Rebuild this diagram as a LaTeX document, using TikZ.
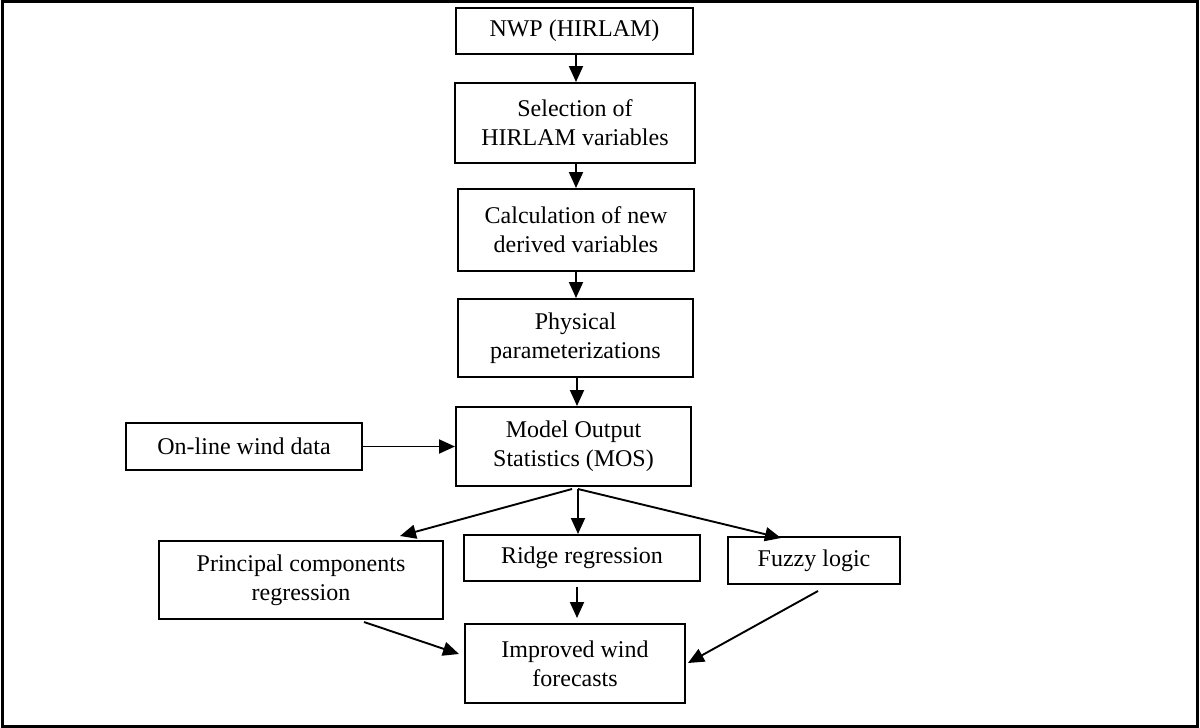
\documentclass[tikz,border=0pt]{standalone}
\usepackage{fontspec}
\setmainfont{Liberation Serif}
\usetikzlibrary{arrows.meta}
\begin{document}
\begin{tikzpicture}[x=0.5pt,y=-0.5pt,
  box/.style={draw,line width=1pt,align=center,inner sep=0pt,
    font=\fontsize{12}{14.5}\selectfont},
  arr/.style={line width=0.95pt,-{Triangle[length=8pt,width=7pt]}}]
\useasboundingbox (0,0) rectangle (1200,728);
\draw[line width=1.5pt] (2,1.5) rectangle (1197.5,726);
\node[box,minimum width=118.5pt,minimum height=23pt] (nwp) at (574.5,31) {NWP (HIRLAM)};
\node[box,minimum width=120pt,minimum height=40pt] (sel) at (575,123) {Selection of\\HIRLAM variables};
\node[box,minimum width=118pt,minimum height=41pt] (calc) at (576,230) {Calculation of new\\derived variables};
\node[box,minimum width=117.5pt,minimum height=39pt] (phys) at (575.5,338) {Physical\\parameterizations};
\node[box,minimum width=117.5pt,minimum height=39.5pt] (mos) at (573.5,446.5) {Model Output\\Statistics (MOS)};
\node[box,minimum width=118pt,minimum height=23.5pt] (online) at (244,446.5) {On-line wind data};
\node[box,minimum width=142pt,minimum height=39pt] (pcr) at (301,580) {Principal components\\regression};
\node[box,minimum width=118pt,minimum height=23pt] (ridge) at (582,558) {Ridge regression};
\node[box,minimum width=86pt,minimum height=23.5pt] (fuzzy) at (814,560.5) {Fuzzy logic};
\node[box,minimum width=110pt,minimum height=39.5pt] (impr) at (575,663.5) {Improved wind\\forecasts};
\coordinate (fanL) at (572,489);
\coordinate (fanR) at (578,489);
\coordinate (pcrT) at (400,536);
\coordinate (ridgeT) at (578,534);
\coordinate (fuzzyT) at (781,538);
\coordinate (ridgeB) at (577,587);
\coordinate (pcrB) at (364,622);
\coordinate (fuzzyB) at (818,591);
\coordinate (imprL) at (459,654);
\coordinate (imprR) at (688,663);
\coordinate (imprT) at (577,618);
\draw[arr] (nwp.south -| 576,0) -- (sel.north -| 576,0);
\draw[arr] (sel.south -| 576,0) -- (calc.north -| 576,0);
\draw[arr] (calc.south -| 576,0) -- (phys.north -| 576,0);
\draw[arr] (phys.south -| 577,0) -- (mos.north -| 577,0);
\draw[arr] (online.east) -- (online.east -| mos.west);
\draw[arr] (fanL) -- (pcrT);
\draw[arr] (fanR) -- (ridgeT);
\draw[arr] (fanR) -- (fuzzyT);
\draw[arr] (ridgeB) -- (imprT);
\draw[arr] (pcrB) -- (imprL);
\draw[arr] (fuzzyB) -- (imprR);
\end{tikzpicture}
\end{document}
